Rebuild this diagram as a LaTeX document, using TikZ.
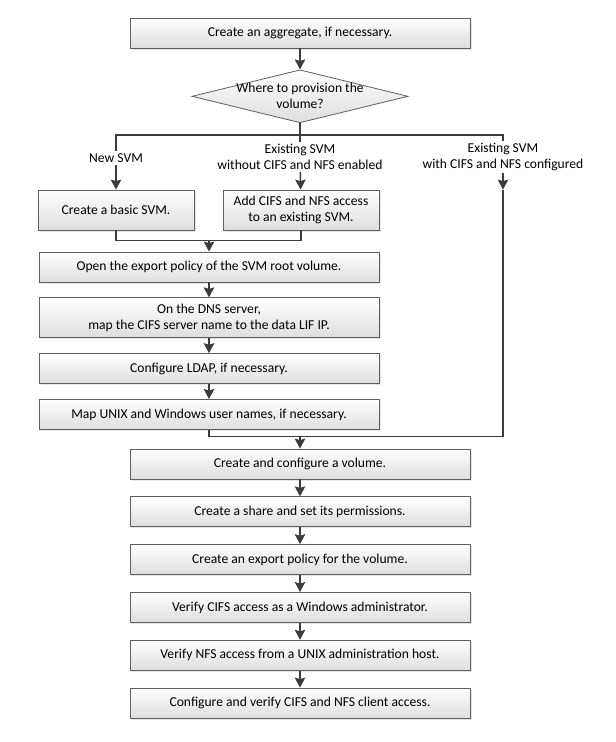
\documentclass[tikz,border=0pt]{standalone}
\usepackage{fontspec}
\setmainfont{Carlito}
\usetikzlibrary{arrows.meta,positioning,shapes.geometric,shadows}
\definecolor{fldark}{HTML}{3C3C3C}
\definecolor{flline}{HTML}{5E5E5E}
\definecolor{flfill}{HTML}{DEDEDE}
\newcommand{\flfont}{\fontsize{13.6}{16}\selectfont}
\tikzset{
  stepbox/.style={draw=flline,line width=0.8pt,top color=white,bottom color=flfill,
              align=center,minimum height=30pt,inner sep=2pt,font=\flfont,
              drop shadow={shadow xshift=1.5pt,shadow yshift=-1.5pt,opacity=0.2}},
  wide/.style={stepbox,minimum width=340pt},
  half/.style={stepbox,minimum width=156pt,minimum height=40pt},
  decide/.style={draw=flline,line width=0.8pt,top color=white,bottom color=flfill,
              diamond,aspect=4.1,inner ysep=0pt,inner xsep=-9pt,align=center,font=\flfont,
              minimum width=216pt,minimum height=53pt},
  lab/.style={align=center,inner sep=2pt,font=\flfont},
  ar/.style={-{Stealth[length=10pt,width=10.5pt,inset=1.5pt]},line width=1.4pt,fldark},
  ln/.style={line width=1.4pt,fldark},
}
\begin{document}
\begin{tikzpicture}[x=1pt,y=-1pt,node distance=15pt]
    \useasboundingbox (0,0) rectangle (616,742);
    % top of the flow
    \node[wide] (aggr) at (300,33) {Create an aggregate, if necessary.};
    \node[decide,below=21pt of aggr] (where) {Where to provision the\\volume?};
    \coordinate (fork) at (300,135);
    % three ways to get an SVM
    \node[lab] (lnew) at (116,158) {New SVM};
    \node[lab] (lmid) at (300,157) {Existing SVM\\without CIFS and NFS enabled};
    \node[lab] (lright) at (503,157) {Existing SVM\\with CIFS and NFS configured};
    \node[half] (basic) at (116,210) {Create a basic SVM.};
    \node[half] (addcifs) at (301,210) {Add CIFS and NFS access\\to an existing SVM.};
    \coordinate (rtip) at (lright.south |- basic.north);
    % SVM set-up
    \node[wide] (open) at (209,267) {Open the export policy of the SVM root volume.};
    \node[wide,below=of open,minimum height=40pt] (dns) {On the DNS server,\\map the CIFS server name to the data LIF IP.};
    \node[wide,below=of dns] (ldap) {Configure LDAP, if necessary.};
    \node[wide,below=of ldap] (map) {Map UNIX and Windows user names, if necessary.};
    % volume and access
    \node[wide] (vol) at (300,464) {Create and configure a volume.};
    \node[wide,below=17pt of vol] (share) {Create a share and set its permissions.};
    \node[wide,below=17pt of share] (expol) {Create an export policy for the volume.};
    \node[wide,below=17pt of expol] (vcifs) {Verify CIFS access as a Windows administrator.};
    \node[wide,below=17pt of vcifs] (vnfs) {Verify NFS access from a UNIX administration host.};
    \node[wide,below=17pt of vnfs] (client) {Configure and verify CIFS and NFS client access.};
    \coordinate[above=11pt of open.north] (join1);
    \coordinate[above=12pt of vol.north] (join2);

    \draw[ar](aggr)--(where);
    \draw[ln](where.south)--(lmid.north);
    \draw[ln](lnew.north)--(lnew.north |- fork)--(lright.north |- fork)--(lright.north);
    \draw[ar](lnew)--(basic);
    \draw[ar](lmid)--(addcifs);
    \draw[ar](lright.south)--(rtip);
    \draw[ln](basic.south)|-(join1)-|(addcifs.south);
    \draw[ar](join1)--(open);
    \draw[ar](open)--(dns);
    \draw[ar](dns)--(ldap);
    \draw[ar](ldap)--(map);
    \draw[ln](map.south)|-(join2)-|(rtip);
    \draw[ar](join2)--(vol);
    \draw[ar](vol)--(share);
    \draw[ar](share)--(expol);
    \draw[ar](expol)--(vcifs);
    \draw[ar](vcifs)--(vnfs);
    \draw[ar](vnfs)--(client);
  \end{tikzpicture}
\end{document}
